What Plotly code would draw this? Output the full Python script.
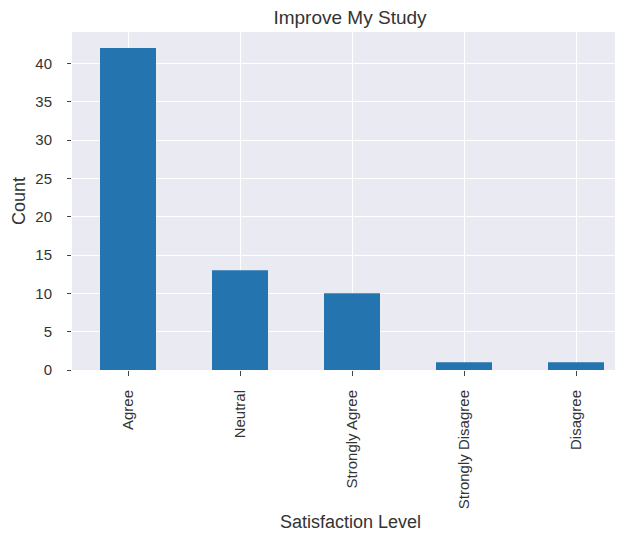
import plotly.graph_objects as go

categories = ["Agree", "Neutral", "Strongly Agree", "Strongly Disagree", "Disagree"]
counts = [42, 13, 10, 1, 1]
y_ticks = [0, 5, 10, 15, 20, 25, 30, 35, 40]

text_color = "#333333"
font_family = "Liberation Sans, Arial, sans-serif"

# page body has an 8px margin; figure coords = page coords - 8
W, H = 615, 525
L, T, B = 64, 24, 525 - 362
PW, PH = W - L, H - T - B

fig = go.Figure(
    go.Bar(
        x=list(range(len(categories))),
        y=counts,
        width=0.5,
        marker=dict(color="#2474b0", line=dict(width=0)),
    )
)

fig.update_layout(
    width=W,
    height=H,
    margin=dict(l=L, r=0, t=T, b=B),
    paper_bgcolor="white",
    plot_bgcolor="#EAEAF2",
    font=dict(family=font_family, color=text_color, size=15),
    showlegend=False,
    title=dict(
        text="Improve My Study",
        x=(350 - 8) / W,
        xanchor="center",
        y=1 - 9 / H,
        yanchor="middle",
        font=dict(size=19, color=text_color),
    ),
)

fig.update_xaxes(
    range=[-0.5, (623 - 128) / 112],
    tickmode="array",
    tickvals=list(range(len(categories))),
    ticktext=categories,
    tickangle=-90,
    ticks="outside",
    ticklen=5,
    tickwidth=1,
    tickcolor="#444444",
    ticklabelstandoff=8,
    showgrid=True,
    gridcolor="white",
    gridwidth=1.3,
    zeroline=False,
    showline=False,
    tickfont=dict(size=15, color=text_color),
    fixedrange=True,
)

fig.update_yaxes(
    range=[0, 44.1],
    tickmode="array",
    tickvals=y_ticks,
    ticks="outside",
    ticklen=4,
    tickwidth=1,
    tickcolor="#444444",
    ticklabelstandoff=12,
    showgrid=True,
    gridcolor="white",
    gridwidth=1.3,
    zeroline=False,
    showline=False,
    tickfont=dict(size=15, color=text_color),
    fixedrange=True,
)

fig.add_annotation(
    text="Count", textangle=-90,
    xref="paper", yref="paper",
    x=-(L - 11) / PW, y=0.5,
    xanchor="center", yanchor="middle",
    showarrow=False, font=dict(size=18, color=text_color),
)
fig.add_annotation(
    text="Satisfaction Level",
    xref="paper", yref="paper",
    x=(342 - L) / PW, y=-(514 - 362) / PH,
    xanchor="center", yanchor="middle",
    showarrow=False, font=dict(size=18, color=text_color),
)

fig.write_html("out.html")
